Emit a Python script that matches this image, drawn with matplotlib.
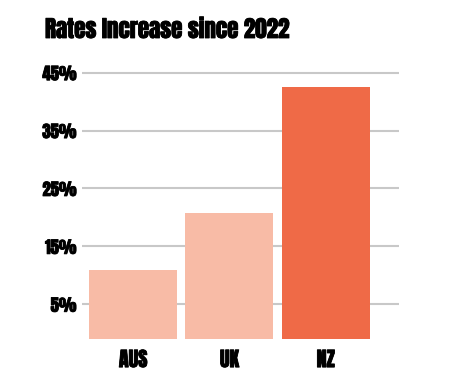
import matplotlib
matplotlib.use("Agg")
import matplotlib.pyplot as plt
import matplotlib.patheffects as pe
import numpy as np

categories = ["AUS", "UK", "NZ"]
values = [10.9, 20.8, 42.5]
colors = ["#F8BBA6", "#F8BBA6", "#EF6A47"]
yticks = [5, 15, 25, 35, 45]
ytick_labels = ["5%", "15%", "25%", "35%", "45%"]
title = "Rates Increase since 2022"

fam = ["Anton", "DejaVu Sans"]
bold = [pe.withStroke(linewidth=0.6, foreground="black")]

fig = plt.figure(figsize=(4.75, 3.75), dpi=100)
ax = fig.add_axes([82/475, 1-339/375, (399-82)/475, (339-60)/375])
base = -1.0
x = np.arange(len(categories))
ax.bar(x, np.array(values) - base, bottom=base, width=0.914, color=colors, zorder=3)
ax.set_ylim(base, base + (339-60)/5.79)
ax.set_xlim(-0.53, 2.76)
ax.set_yticks(yticks)
ax.set_yticklabels(ytick_labels)
ax.set_xticks(x)
ax.set_xticklabels(categories)
ax.grid(axis="y", color="#c8c8c8", linewidth=1.5, zorder=0)
for s in ax.spines.values():
    s.set_visible(False)
ax.tick_params(axis="y", length=0, pad=4)
ax.tick_params(axis="x", length=0, pad=8)
for lab in ax.get_yticklabels():
    lab.set_fontfamily(fam)
    lab.set_fontsize(12)
    lab.set_path_effects(bold)
for lab in ax.get_xticklabels():
    lab.set_fontfamily(fam)
    lab.set_fontsize(14.5)
    lab.set_path_effects(bold)
fig.text(45/475, 1-38/375, title, fontfamily=fam, fontsize=16.6, ha="left", va="baseline",
         path_effects=bold)
fig.savefig("out.png", dpi=100, facecolor="white")
